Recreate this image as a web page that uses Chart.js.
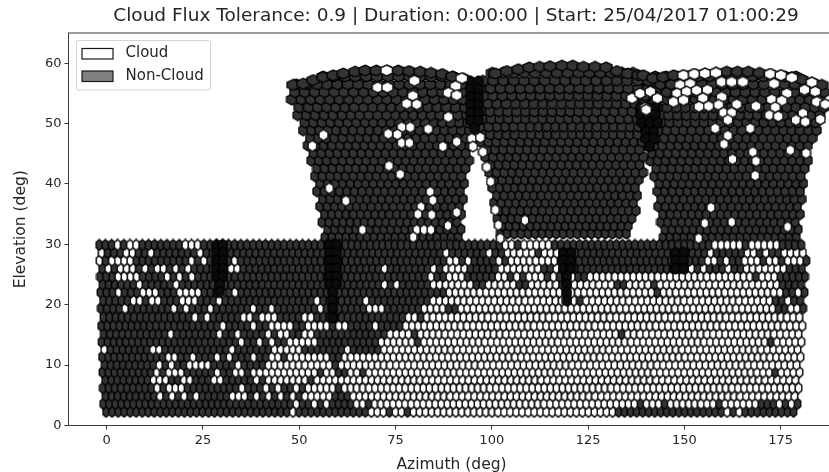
<!DOCTYPE html>
<html>
<head>
<meta charset="utf-8">
<title>Cloud Flux Tolerance</title>
<script src="https://cdn.jsdelivr.net/npm/chart.js@4"></script>
<style>
html, body { margin: 0; padding: 0; background: #fff; overflow: hidden; }
canvas { display: block; filter: blur(0.45px); }
</style>
</head>
<body>
<canvas id="skyChart" width="912" height="472"></canvas>
<script>
const chartTitle = 'Cloud Flux Tolerance: 0.9 | Duration: 0:00:00 | Start: 25/04/2017 01:00:29';
const xAxisLabel = 'Azimuth (deg)';
const yAxisLabel = 'Elevation (deg)';
const xTickValues = [0, 25, 50, 75, 100, 125, 150, 175];
const yTickValues = [0, 10, 20, 30, 40, 50, 60];
const legendLabels = ['Cloud', 'Non-Cloud'];

// Lower band: one entry per row, bottom row first
const lowerElevations = [2.27, 3.6, 4.9, 6.2, 7.6, 8.83, 10.04, 11.36, 12.64, 13.85, 15.17, 16.5, 17.93, 19.42, 20.68, 22.07, 23.39, 24.65, 26.04, 27.3, 28.62, 29.9];
const lowerAzStart = [-0.18, -0.91, -0.29, -1.01, -0.41, -1.12, -0.52, -1.22, -0.62, -1.32, -0.74, -1.43, -0.86, -1.53, -0.96, -1.64, -1.06, -1.74, -1.19, -1.84, -1.30, -1.95];
const lowerAzStep = [1.566, 1.568, 1.569, 1.571, 1.572, 1.574, 1.576, 1.577, 1.579, 1.580, 1.582, 1.583, 1.585, 1.586, 1.588, 1.590, 1.591, 1.592, 1.594, 1.596, 1.597, 1.599];
const lowerCellCount = [115, 116, 115, 116, 115, 116, 115, 116, 115, 116, 115, 116, 115, 116, 115, 116, 115, 116, 115, 116, 115, 115];
// Cells of each row that read as cloud
const lowerCloudCells = [
    '31,44,45,46,48,49,51-84,103,105',
    '32,35,37,42,43,45-88,90-92,94-101,103-108,112,114',
    '9,11,13,15,21,22,23,25,27,29,31,33-37,41-114',
    '9,11,12,13,23,27,29,32,34-38,40-115',
    '8,9,10,13,14,18,19,25,27-33,35-114',
    '9,11,12,13,19,22,23,25-35,37,38,41,42,44-110,112-115',
    '9,11,14,15,16,17,22,27-37,39-114',
    '11,12,15,19,21,25,28,29,31-37,40-115',
    '0,8,9,21,28-32,40,46-114',
    '23,26,28,31-35,46-51,53-109,111-115',
    '11,19,22,27,29,30,33,34,47-50,52-84,86-114',
    '20,25,28-31,34-37,39,40,45,50-115',
    '15,17,23,24,26,27,28,33,34,50,51,53-114',
    '4,12,14,18,25,28,36,44,45,46,53-56,59-110,113,114',
    '5,6,8,9,13,14,15,19,35,43,54-77,79-109,112',
    '3,7,8,9,13-16,20,22,57-75,77-90,92-111,114',
    '6,12,46,48,54-60,63-67,70-74,77-83,86-89,91-110',
    '3,4,5,6,11,13,15,54,57,58,59,65,66,68,70,71,72,74,77,80-106,108-110',
    '1,3,4,5,7,9,10,12,14,21,22,46,54,56-59,65-71,74,95,96,98,102,105-111',
    '0,2,3,4,5,15,17,22,57,58,60,65,67-74,99,100,102,105,106,107,109,110,112,113,114',
    '0,4,5,8,16,56,63,66-70,72,73,74,99,105,106,108,111-114',
    '3,5,6,14,15,16,66,67,69-73,100-104,106-110'
];

// Upper band: three fans of rows, bottom row first
const upperElevations = [31.2, 32.5, 33.7, 35.0, 36.3, 37.5, 38.8, 40.1, 41.3, 42.6, 43.9, 45.1, 46.4, 47.6, 48.9, 50.2, 51.4, 52.7, 54.0, 55.2, 56.5, 57.8];
const upperAzStep = [1.82, 1.82, 1.84, 1.87, 1.90, 1.92, 1.95, 1.97, 2.00, 2.03, 2.05, 2.08, 2.10, 2.13, 2.16, 2.23, 2.31, 2.39, 2.47, 2.55, 2.68, 2.81];
const fanOneLeft = [56.7, 57.4, 55.9, 56.6, 55.4, 56.1, 54.6, 55.4, 54.1, 54.6, 53.1, 53.7, 52.2, 52.8, 51.0, 51.5, 49.6, 50.0, 48.1, 48.9, 49.2, 56.2];
const fanOneRight = [91.8, 92.0, 92.3, 92.5, 92.8, 93.1, 93.3, 93.6, 93.9, 94.4, 94.6, 94.9, 95.1, 95.4, 95.4, 95.4, 95.1, 94.9, 94.6, 94.4, 93.6, 90.5];
const fanTwoLeft = [102.2, 102.7, 101.4, 101.9, 100.6, 101.3, 100.1, 100.7, 99.3, 99.8, 98.3, 98.8, 97, 97.5, 94.9, 95.4, 94.9, 96.6, 95.4, 97.2, 97.7, 100.1];
const fanTwoRight = [136.7, 137.2, 137.5, 137.7, 138, 138.3, 138.6, 139, 139.3, 139.5, 139.8, 140.1, 140.3, 140.6, 141.6, 142.1, 142.7, 142.9, 142.4, 141.6, 141.1, 138.5];
const fanTwoElShift = 0.6;
const fanThreeLeft = [144.5, 145, 143.8, 144.5, 143.2, 144, 143, 143.5, 142.2, 142.7, 141.1, 141.6, 140.1, 140.6, 139, 139.5, 139, 140.8, 140.6, 142.9, 138.5, 142.4];
const fanThreeRight = [179.6, 179.8, 180.2, 180.6, 180.9, 181.1, 181.4, 181.6, 181.9, 182.1, 182.4, 182.9, 183.4, 183.9, 184.5, 185, 185.5, 186.3, 186.8, 186.8, 186.6, 181.4];

// Top edge cells of the fans, [azimuth, elevation]
const fanTopCells = [
    [48.4,56.4],[51.0,56.6],[53.6,57.2],[56.2,57.7],[58.8,58.0],[61.4,58.3],[64.5,58.6],[67.1,58.8],[70,58.8],[72.8,58.8],[75.7,58.8],[78.5,58.7],[81.4,58.6],[84.2,58.4],[87.1,58.2],[89.7,57.8],[92.5,57.5],
    [100.9,58.3],[103.9,58.7],[106.9,59.0],[109.7,59.3],[112.4,59.4],[115.1,59.5],[118.2,59.6],[121,59.6],[123.8,59.4],[126.8,59.4],[129.7,59.3],[132.5,58.7],[135.3,58.3],[138.1,58.0],
    [139.3,58],[141.9,57.5],[144.5,57.7],[147.2,58],[149.8,58.0],[152.6,58.2],[155.4,58.3],[158.3,58.4],[161,58.6],[163.8,58.6],[166.6,58.6],[169.5,58.4],[172.3,58.2],[175.1,58.0],[177.9,57.7],[180.5,57.3],[183.1,56.8],[185.7,56.4]
];

// Cloud cells of the upper band, [azimuth, elevation]
const upperCloudPoints = [
    [72.7,58.8],[79.9,57.1],[70.4,56.0],[72.9,56.0],[79.5,54.6],[77.9,53.3],[80.5,53.2],[88.7,51.1],[76.6,49.4],[78.8,49.4],
    [83.5,49.1],[56.3,48.1],[73.1,48.3],[75.5,48.2],[76.6,46.8],[78.6,46.8],[53.4,46.3],[90.9,47.0],[87.3,46.2],[73.3,43.0],
    [76.2,41.6],[57.8,39.3],[84,38.7],[84.7,37.3],[62.1,37.2],[81.6,36.2],[80.8,35.0],[84.4,34.9],[90.9,35.3],[88.6,33.1],
    [66.4,32.4],[80.5,32.4],[82.4,32.4],[84.2,32.4],[79.6,31.2],[92.2,57.5],[90.6,56.2],[88.7,55.1],[90.9,54.7],[94.8,47.5],
    [95.1,46.2],[97,47.7],[97.7,45.3],[98.7,42.8],[99.7,40.4],[100.9,35.7],[101.7,33.2],[102.2,31.0],[108.6,34.0],[136.4,54.2],
    [138.5,55.0],[139.8,52.6],[149.8,58.0],[152.6,58.2],[155.4,58.3],[158.2,58.4],[172.3,58.2],[175.1,58.0],[177.9,57.6],[183.1,56.8],
    [148.9,56.4],[151.5,56.6],[159.7,56.9],[162.3,56.9],[165.2,56.9],[173.3,56.6],[181.2,55.6],[148.1,55.0],[150.6,55.3],[153.2,55.5],
    [156,55.6],[176.6,55.0],[184,55.3],[147.2,53.6],[149.8,53.9],[154.8,54.2],[159.7,54.4],[172.7,54.0],[175.3,53.8],[184.4,53.6],
    [186.6,53.2],[153.8,52.8],[156.3,52.9],[158.9,53.1],[163.6,53.2],[168.6,52.9],[173.6,52.7],[160.2,51.8],[162.3,51.8],[172.1,51.4],
    [174.4,51.2],[180.8,51.7],[161.3,50.6],[179,50.6],[181.4,50.3],[185.3,50.7],[158,49.2],[167.1,49.2],[161.3,48.0],[160.3,46.6],
    [167.8,45.3],[177.5,45.6],[181.6,45.1],[162.5,44.1],[168.6,43.8],[168.4,41.4],[156.9,36.1],[155.3,33.5],[162.3,33.7],[176.8,32.9],
    [153.7,31.0],[141.2,55.3],[143,54.2],[140.1,52.3]
];

// Where panels overlap the cells read as solid black, [azimuth, elevation]
const overlapCells = [
    [28.6,29.9],[30.2,29.9],[28.6,28.6],[30.2,28.6],[28.6,27.3],[30.2,27.3],[28.6,26],[30.2,26],[28.6,24.7],[30.2,24.7],[29.4,23.4],[29.4,22.1],
    [57.8,29.9],[59.6,29.9],[57.8,28.6],[59.6,28.6],[57.8,27.3],[59.6,27.3],[57.8,26],[59.6,26],[57.8,24.7],[59.6,24.7],[57.8,23.4],[59.6,23.4],[58.7,22.1],[58.7,20.7],[58.7,19.4],[58.7,17.9],
    [118.5,28.6],[120.5,28.6],[118.5,27.3],[120.5,27.3],[118.5,26],[120.5,26],[119.5,24.7],[119.5,23.4],[119.5,22],[119.5,20.7],
    [147.7,28.6],[149.7,28.6],[147.7,27.3],[149.7,27.3],[147.7,26],[149.7,26],
    [94.5,57],[96.5,57],[94.5,55.7],[96.5,55.7],[94.5,54.4],[96.5,54.4],[94.5,53.1],[96.5,53.1],[94.5,51.8],[96.5,51.8],[94.5,50.5],[96.5,50.5],[95.5,49.2],
    [138.5,52.7],[140.5,52.7],[142.5,52.7],[138.5,51.4],[140.5,51.4],[142.5,51.4],[139,50.1],[141,50.1],[143,50.1],[140,48.8],[142,48.8],[140,47.5],[142,47.5],[141,46.2]
];

// Turn '3,5,66-70' into a lookup of cell numbers
function parseCells(text) {
    const cells = new Set();
    text.split(',').forEach(part => {
        const [first, last] = part.split('-').map(Number);
        for (let i = first; i <= (last === undefined ? first : last); i++) {
            cells.add(i);
        }
    });
    return cells;
}

function buildLowerPoints() {
    const points = [];
    lowerElevations.forEach((el, row) => {
        const cloudCells = parseCells(lowerCloudCells[row]);
        for (let i = 0; i < lowerCellCount[row]; i++) {
            points.push({ x: lowerAzStart[row] + i * lowerAzStep[row], y: el, cloud: cloudCells.has(i), step: lowerAzStep[row] });
        }
    });
    return points;
}

function buildFanPoints(lefts, rights, elShift) {
    const points = [];
    upperElevations.forEach((el, row) => {
        for (let az = lefts[row]; az <= rights[row]; az += upperAzStep[row]) {
            points.push({ x: az, y: el + elShift, cloud: false, step: upperAzStep[row] });
        }
    });
    return points;
}

// Cell spacing of the upper band at a given elevation
function stepAtElevation(el) {
    let best = 0;
    upperElevations.forEach((rowEl, row) => {
        if (Math.abs(rowEl - el) < Math.abs(upperElevations[best] - el)) {
            best = row;
        }
    });
    return upperAzStep[best];
}

const pxPerDegree = 3.85;

// Hexagon marker with the point on top
function makeHexagon(fill, edge, width, lineWidth) {
    const h = 10.8;
    const sprite = document.createElement('canvas');
    sprite.width = Math.ceil(width) + 2;
    sprite.height = Math.ceil(h) + 2;
    const c = sprite.getContext('2d');
    const cx = sprite.width / 2, cy = sprite.height / 2;
    c.beginPath();
    c.moveTo(cx, cy - h / 2);
    c.lineTo(cx + width / 2, cy - h / 4);
    c.lineTo(cx + width / 2, cy + h / 4);
    c.lineTo(cx, cy + h / 2);
    c.lineTo(cx - width / 2, cy + h / 4);
    c.lineTo(cx - width / 2, cy - h / 4);
    c.closePath();
    c.fillStyle = fill;
    c.fill();
    c.lineWidth = lineWidth;
    c.strokeStyle = edge;
    c.stroke();
    return sprite;
}

const hexCache = {};
function hexFor(cloud, step) {
    const width = Math.round(step * pxPerDegree * 1.08 * 2) / 2;
    const key = (cloud ? 'c' : 'n') + width;
    if (!hexCache[key]) {
        hexCache[key] = cloud ? makeHexagon('#ffffff', '#161616', width, 1.5) : makeHexagon('#333333', '#000000', width, 1.3);
    }
    return hexCache[key];
}

const overlapHex = makeHexagon('#0c0c0c', '#000000', 9, 1.3);
const pickHex = ctx => (ctx.raw ? hexFor(ctx.raw.cloud, ctx.raw.step) : overlapHex);

// Axes frame and the boxed legend
const framePlugin = {
    id: 'frame',
    afterDraw(chart) {
        const { ctx, chartArea: a } = chart;
        ctx.save();
        ctx.strokeStyle = '#3a3a3a';
        ctx.lineWidth = 1;
        ctx.strokeRect(a.left, a.top, a.right - a.left, a.bottom - a.top);

        ctx.fillStyle = 'rgba(255,255,255,0.85)';
        ctx.strokeStyle = '#d4d4d4';
        ctx.beginPath();
        ctx.roundRect(76.5, 40.5, 134, 49.5, 2);
        ctx.fill();
        ctx.stroke();

        const swatchFill = ['#ffffff', '#808080'];
        ctx.font = '15px "DejaVu Sans"';
        ctx.textBaseline = 'middle';
        legendLabels.forEach((label, i) => {
            const y = 48.5 + i * 22.5;
            ctx.fillStyle = swatchFill[i];
            ctx.strokeStyle = '#1a1a1a';
            ctx.lineWidth = 1.2;
            ctx.fillRect(82, y, 31, 10.5);
            ctx.strokeRect(82, y, 31, 10.5);
            ctx.fillStyle = '#262626';
            ctx.fillText(label, 125.5, y + 5);
        });
        ctx.restore();
    }
};

function initChart() {
    const chartCtx = document.getElementById('skyChart').getContext('2d');
    const scaleColor = '#3a3a3a';
    const textColor = '#262626';
    new Chart(chartCtx, {
        type: 'scatter',
        data: {
            datasets: [
                { label: 'Cloud', data: upperCloudPoints.map(p => ({ x: p[0], y: p[1], cloud: true, step: stepAtElevation(p[1]) })) },
                { label: 'Overlap', data: overlapCells.map(p => ({ x: p[0], y: p[1] })), pointStyle: overlapHex },
                { label: 'Lower band', data: buildLowerPoints() },
                { label: 'Fan tops', data: fanTopCells.map(p => ({ x: p[0], y: p[1], cloud: false, step: 2.86 })) },
                { label: 'Fan 1', data: buildFanPoints(fanOneLeft, fanOneRight, 0) },
                { label: 'Fan 2', data: buildFanPoints(fanTwoLeft, fanTwoRight, fanTwoElShift) },
                { label: 'Fan 3', data: buildFanPoints(fanThreeLeft, fanThreeRight, 0) }
            ]
        },
        options: {
            responsive: false,
            animation: false,
            devicePixelRatio: 1,
            elements: { point: { pointStyle: pickHex, radius: 6, hoverRadius: 6 } },
            plugins: {
                legend: { display: false },
                tooltip: { enabled: false },
                title: {
                    display: true,
                    text: chartTitle,
                    color: textColor,
                    font: { family: '"DejaVu Sans"', size: 18.5, weight: 'normal', lineHeight: 1.2 },
                    padding: { top: 4.8, bottom: 6 }
                }
            },
            scales: {
                x: {
                    type: 'linear',
                    min: -9.92,
                    max: 189,
                    afterBuildTicks: scale => { scale.ticks = xTickValues.map(v => ({ value: v })); },
                    afterFit: scale => { scale.height = 46.5; },
                    grid: { display: true, drawOnChartArea: false, color: scaleColor, tickLength: 4 },
                    border: { color: scaleColor },
                    ticks: { color: textColor, padding: 3, maxRotation: 0, font: { family: '"DejaVu Sans"', size: 13 } },
                    title: { display: true, text: xAxisLabel, color: textColor, padding: { top: 1, bottom: -2 }, font: { family: '"DejaVu Sans"', size: 15.5 } }
                },
                y: {
                    min: 0,
                    max: 65,
                    afterBuildTicks: scale => { scale.ticks = yTickValues.map(v => ({ value: v })); },
                    afterFit: scale => { scale.width = 68.5; },
                    grid: { display: true, drawOnChartArea: false, color: scaleColor, tickLength: 4 },
                    border: { color: scaleColor },
                    ticks: { color: textColor, padding: 3, font: { family: '"DejaVu Sans"', size: 13 } },
                    title: { display: true, text: yAxisLabel, color: textColor, padding: { top: 11.5, bottom: 0 }, font: { family: '"DejaVu Sans"', size: 15.5 } }
                },
                // Empty right axis, it only keeps the plot's right edge where the original has it
                rightGap: {
                    position: 'right',
                    min: 0,
                    max: 65,
                    afterFit: scale => { scale.width = 77.5; },
                    grid: { display: false },
                    border: { display: false },
                    ticks: { display: false }
                }
            }
        },
        plugins: [framePlugin]
    });
}

document.addEventListener('DOMContentLoaded', initChart);
</script>
</body>
</html>
